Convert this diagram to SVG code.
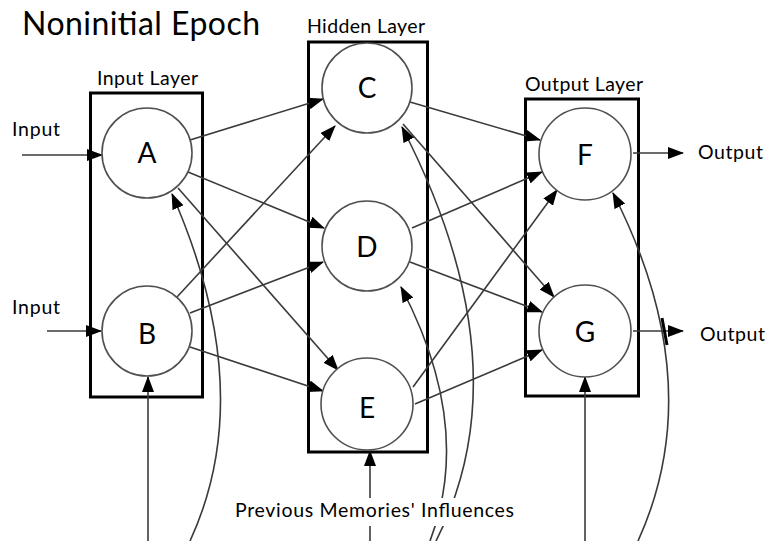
<svg xmlns="http://www.w3.org/2000/svg" width="768" height="541" viewBox="0 0 768 541">
<style>
.box{fill:none;stroke:#000;stroke-width:3}
.node circle{fill:#fff;stroke:#505050;stroke-width:1.6}
.lbl{font-family:Lato,"Open Sans",sans-serif;font-size:28px;fill:#000;text-anchor:middle}
.txt{font-family:Lato,"Open Sans",sans-serif;fill:#000}
.e{fill:none;stroke:#3a3a3a;stroke-width:1.6}
</style>
<defs>
<marker id="ah" markerUnits="userSpaceOnUse" markerWidth="16" markerHeight="12" viewBox="0 0 16 12" refX="15" refY="6" orient="auto">
<path d="M0,0 L16,6 L0,12 Z" fill="#000"/>
</marker>
</defs>
<rect width="768" height="541" fill="#fff"/>
<text class="txt" x="22" y="35" font-size="32" textLength="238">Noninitial Epoch</text>
<g id="layers">
<rect class="box" x="90.5" y="93" width="112" height="304"/>
<rect class="box" x="308.5" y="42" width="119" height="410"/>
<rect class="box" x="525.5" y="99" width="113" height="297"/>
<text class="txt" x="97" y="85" font-size="19.5" textLength="101">Input Layer</text>
<text class="txt" x="307" y="33" font-size="19.5" textLength="118">Hidden Layer</text>
<text class="txt" x="525" y="91" font-size="19.5" textLength="118">Output Layer</text>
</g>
<g id="connectors">
<line class="e" x1="22" y1="155" x2="102" y2="155" marker-end="url(#ah)"/>
<line class="e" x1="47" y1="331" x2="101" y2="331" marker-end="url(#ah)"/>
<line class="e" x1="190" y1="140" x2="323" y2="99" marker-end="url(#ah)"/>
<line class="e" x1="188" y1="172" x2="324" y2="228" marker-end="url(#ah)"/>
<line class="e" x1="178" y1="188" x2="338" y2="370" marker-end="url(#ah)"/>
<line class="e" x1="177" y1="297" x2="335" y2="126" marker-end="url(#ah)"/>
<line class="e" x1="190" y1="313" x2="323" y2="262" marker-end="url(#ah)"/>
<line class="e" x1="190" y1="347" x2="323" y2="391" marker-end="url(#ah)"/>
<line class="e" x1="410" y1="102" x2="540" y2="140" marker-end="url(#ah)"/>
<line class="e" x1="412" y1="228" x2="542" y2="172" marker-end="url(#ah)"/>
<line class="e" x1="413" y1="387" x2="557" y2="190" marker-end="url(#ah)"/>
<line class="e" x1="403" y1="124" x2="554" y2="297" marker-end="url(#ah)"/>
<line class="e" x1="410" y1="262" x2="542" y2="312" marker-end="url(#ah)"/>
<line class="e" x1="415" y1="404" x2="542" y2="350" marker-end="url(#ah)"/>
<line class="e" x1="633" y1="153" x2="683" y2="153" marker-end="url(#ah)"/>
<line class="e" x1="633" y1="331" x2="683" y2="331" marker-end="url(#ah)"/>
<line class="e" x1="148" y1="541" x2="148" y2="377" marker-end="url(#ah)"/>
<line class="e" x1="585" y1="541" x2="585" y2="377" marker-end="url(#ah)"/>
<line class="e" x1="370" y1="541" x2="370" y2="451" marker-end="url(#ah)"/>
<path class="e" d="M190,541 Q259,392 172,194" marker-end="url(#ah)"/>
<path class="e" d="M436,541 Q525,366 402,127" marker-end="url(#ah)"/>
<path class="e" d="M430,541 Q474,426 401,287" marker-end="url(#ah)"/>
<path class="e" d="M638,541 Q710,383 613,193" marker-end="url(#ah)"/>
<line x1="662" y1="318" x2="667" y2="345" stroke="#000" stroke-width="3"/>
</g>
<g id="A" class="node"><circle cx="147" cy="153" r="45"/><text class="lbl" x="147" y="163">A</text></g>
<g id="B" class="node"><circle cx="147" cy="331" r="45"/><text class="lbl" x="147" y="344">B</text></g>
<g id="C" class="node"><circle cx="367" cy="88" r="45"/><text class="lbl" x="367" y="98">C</text></g>
<g id="D" class="node"><circle cx="367" cy="246" r="45"/><text class="lbl" x="367" y="257">D</text></g>
<g id="E" class="node"><circle cx="367" cy="404" r="46"/><text class="lbl" x="367" y="418">E</text></g>
<g id="F" class="node"><circle cx="585" cy="154" r="46"/><text class="lbl" x="585" y="165">F</text></g>
<g id="G" class="node"><circle cx="585" cy="331" r="46"/><text class="lbl" x="585" y="342">G</text></g>
<g id="labels">
<text class="txt" x="12" y="136" font-size="19.5" textLength="48">Input</text>
<text class="txt" x="12" y="314" font-size="19.5" textLength="48">Input</text>
<text class="txt" x="698" y="159" font-size="19.5" textLength="65">Output</text>
<text class="txt" x="700" y="341" font-size="19.5" textLength="65">Output</text>
<rect x="232" y="498" width="285" height="28" fill="#fff"/>
<text class="txt" x="235" y="517" font-size="19.5" textLength="279">Previous Memories' Influences</text>
</g>
</svg>
